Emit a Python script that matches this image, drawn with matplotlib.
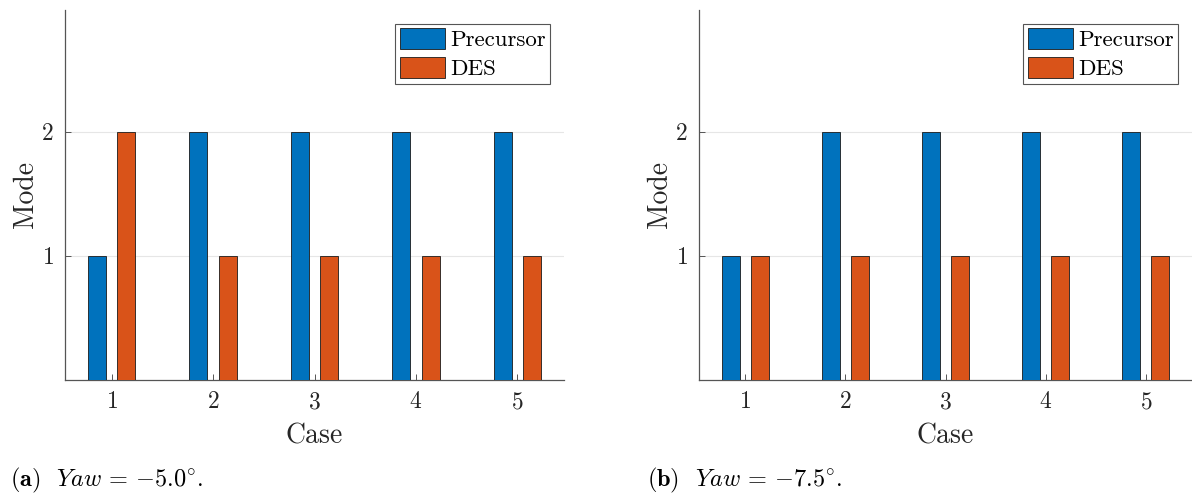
import numpy as np
import matplotlib
matplotlib.use("agg")
import matplotlib.pyplot as plt

CASES = [1, 2, 3, 4, 5]
PRECURSOR_A = [1, 2, 2, 2, 2]
DES_A = [2, 1, 1, 1, 1]
PRECURSOR_B = [1, 2, 2, 2, 2]
DES_B = [1, 1, 1, 1, 1]
CAPTIONS = [r"$\mathbf{(a)}$  $\mathit{Yaw}\,=\,{-}5.0^{\circ}$.",
            r"$\mathbf{(b)}$  $\mathit{Yaw}\,=\,{-}7.5^{\circ}$."]

BLUE = "#0072BD"
ORANGE = "#D95319"

plt.rcParams["font.family"] = "serif"
plt.rcParams["font.serif"] = ["cmr10", "DejaVu Serif"]
plt.rcParams["mathtext.fontset"] = "cm"
plt.rcParams["axes.unicode_minus"] = False
plt.rcParams["axes.formatter.use_mathtext"] = True


def panel(ax, prec, des):
	x = np.array(CASES)
	w = 0.18
	off = 0.145
	ax.bar(x - off, prec, w, color=BLUE, edgecolor="#1a1a1a", linewidth=0.6,
		label="Precursor", zorder=3)
	ax.bar(x + off, des, w, color=ORANGE, edgecolor="#1a1a1a", linewidth=0.6,
		label="DES", zorder=3)
	ax.set_xlim(0.54, 5.46)
	ax.set_ylim(0, 2.98)
	ax.set_xticks(CASES)
	ax.set_yticks([1, 2])
	ax.yaxis.grid(True, color="#e6e6e6", linewidth=0.8, zorder=0)
	ax.set_axisbelow(True)
	for s in ["top", "right"]:
		ax.spines[s].set_visible(False)
	for s in ["left", "bottom"]:
		ax.spines[s].set_color("#555555")
		ax.spines[s].set_linewidth(0.9)
	ax.tick_params(direction="in", length=4, width=0.7, color="#555555",
		labelsize=17, labelcolor="#262626", pad=8)
	ax.set_xlabel("Case", fontsize=20, color="#262626", labelpad=7)
	ax.set_ylabel("Mode", fontsize=20, color="#262626", labelpad=2)
	leg = ax.legend(loc="upper right", fontsize=16.5, fancybox=False,
		edgecolor="#555555", framealpha=1, borderpad=0.2, labelspacing=0.3,
		handlelength=2.0, handleheight=1.0, handletextpad=0.2,
		borderaxespad=0.6)
	leg.get_frame().set_linewidth(0.8)


fig = plt.figure(figsize=(11.92, 4.93), dpi=100)
ax1 = fig.add_axes([65 / 1192, 1 - 380 / 493, 499 / 1192, 370 / 493])
ax2 = fig.add_axes([699 / 1192, 1 - 380 / 493, 493 / 1192, 370 / 493])
panel(ax1, PRECURSOR_A, DES_A)
panel(ax2, PRECURSOR_B, DES_B)

fig.text(10 / 1192, 1 - 480 / 493, CAPTIONS[0], fontsize=17.5, va="center", ha="left")
fig.text(647 / 1192, 1 - 480 / 493, CAPTIONS[1], fontsize=17.5, va="center", ha="left")

plt.savefig("out.png", dpi=100)
